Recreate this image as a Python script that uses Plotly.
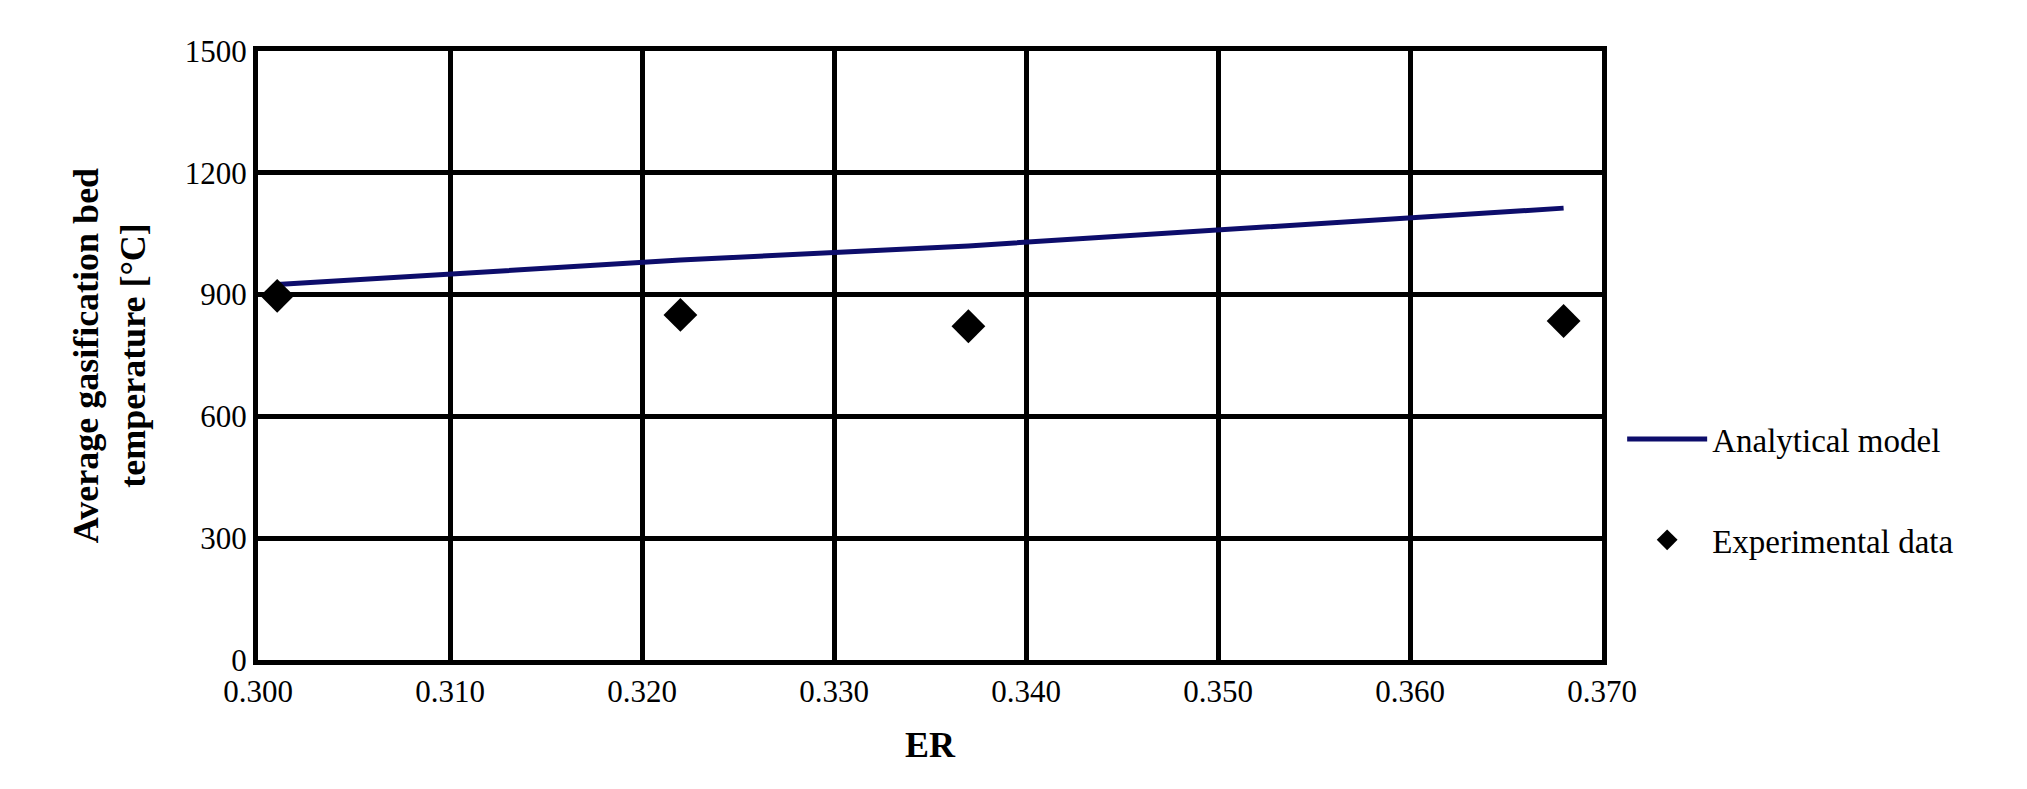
import plotly.graph_objects as go

model_er = [0.301, 0.322, 0.337, 0.368]
model_t = [925, 985, 1020, 1113]
exp_er = [0.301, 0.322, 0.337, 0.368]
exp_t = [897, 850, 822, 835]
xticks = [0.300, 0.310, 0.320, 0.330, 0.340, 0.350, 0.360, 0.370]
yticks = [0, 300, 600, 900, 1200, 1500]

fig = go.Figure()
fig.add_trace(go.Scatter(x=model_er, y=model_t, mode="lines", name="Analytical model",
                         legendgroup="a", line=dict(color="#0d0d6b", width=5)))
fig.add_trace(go.Scatter(x=exp_er, y=exp_t, mode="markers", name="Experimental data",
                         legendgroup="b", marker=dict(symbol="diamond", size=26, color="black")))
font = "Liberation Serif"
fig.update_layout(
    width=2027, height=789, paper_bgcolor="white", plot_bgcolor="white",
    margin=dict(l=250, r=433, t=43, b=137),
    font=dict(family=font, size=31, color="black"),
    showlegend=True,
    legend=dict(x=1.015, y=0.28, xanchor="left", yanchor="middle", font=dict(size=33),
                tracegroupgap=55, itemwidth=80, bgcolor="rgba(0,0,0,0)"),
)
fig.update_xaxes(range=[0.300, 0.370], tickvals=xticks, ticktext=[f"{v:.3f}" for v in xticks],
                 showgrid=True, gridcolor="black", gridwidth=5, zeroline=False,
                 showline=True, linecolor="black", linewidth=5, mirror=True,
                 title=dict(text="<b>ER</b>", font=dict(size=36), standoff=25), ticks="")
fig.update_yaxes(range=[0, 1500], tickvals=yticks, showgrid=True, gridcolor="black", gridwidth=5,
                 zeroline=False, showline=True, linecolor="black", linewidth=5, mirror=True,
                 title=dict(text="<b>Average gasification bed<br>temperature [°C]</b>", font=dict(size=36), standoff=30),
                 ticks="")
fig.write_html("out.html")
